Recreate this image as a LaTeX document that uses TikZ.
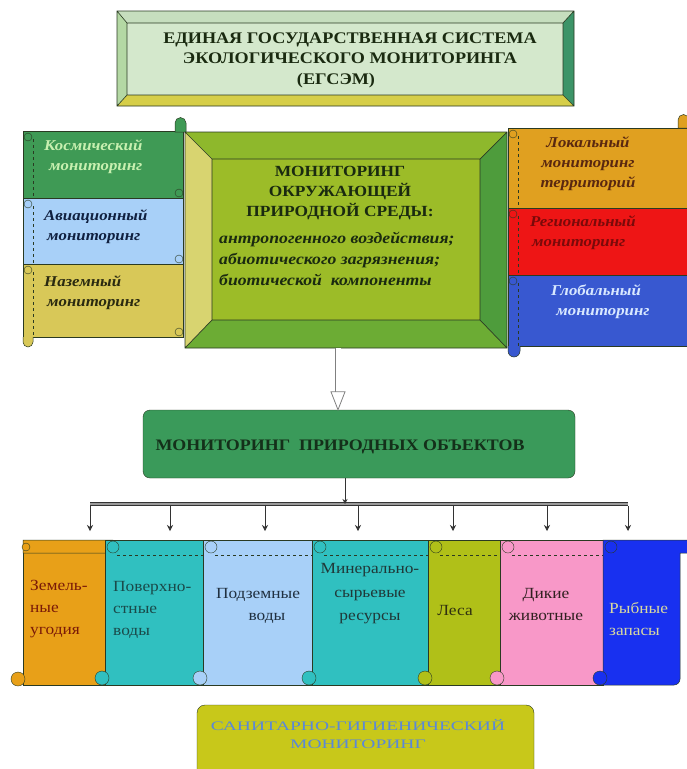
\documentclass[tikz,border=0pt]{standalone}
\usepackage{fontspec}
\setmainfont{Liberation Serif}[FakeStretch=1.12]
\newfontfamily\widefont{Liberation Serif}[FakeStretch=1.5]
\usetikzlibrary{calc,arrows.meta}
\definecolor{outl}{HTML}{2A3A22}
\definecolor{tface}{HTML}{D4E8CC}
\definecolor{ttop}{HTML}{C6DEBE}
\definecolor{tleft}{HTML}{B4D8A4}
\definecolor{tright}{HTML}{3C9468}
\definecolor{tbot}{HTML}{D6CE48}
\definecolor{cface}{HTML}{9CBC28}
\definecolor{ctop}{HTML}{8EB82C}
\definecolor{cleft}{HTML}{D8D470}
\definecolor{cright}{HTML}{4E9C3C}
\definecolor{cbot}{HTML}{6CAC34}
\definecolor{lgreen}{HTML}{3F9A55}
\definecolor{lblue}{HTML}{A8D0F8}
\definecolor{lyell}{HTML}{D8C858}
\definecolor{rorange}{HTML}{E0A020}
\definecolor{rred}{HTML}{EE1515}
\definecolor{rblue}{HTML}{3858D0}
\definecolor{objgreen}{HTML}{3A9A5A}
\definecolor{borange}{HTML}{E8A018}
\definecolor{bteal}{HTML}{30C0C0}
\definecolor{blblue}{HTML}{A8D0F8}
\definecolor{bygreen}{HTML}{B0C018}
\definecolor{bpink}{HTML}{F898C8}
\definecolor{bblue}{HTML}{1830F0}
\definecolor{sanfill}{HTML}{C8C81A}
\definecolor{santxt}{HTML}{5A88D8}
\definecolor{dtxt}{HTML}{1A2A10}
\definecolor{kosmtxt}{HTML}{C8F0B0}
\definecolor{aviatxt}{HTML}{102040}
\definecolor{nazemtxt}{HTML}{2A2A10}
\definecolor{loktxt}{HTML}{5A2810}
\definecolor{regtxt}{HTML}{7A0A0A}
\definecolor{globtxt}{HTML}{D8E8FF}
\definecolor{objtxtc}{HTML}{14301A}
\definecolor{zemtxt}{HTML}{7A1A08}
\definecolor{povtxt}{HTML}{1A4A4A}
\definecolor{podztxt}{HTML}{203040}
\definecolor{mintxt}{HTML}{203838}
\definecolor{lestxt}{HTML}{303010}
\definecolor{diktxt}{HTML}{302020}
\definecolor{rybtxt}{HTML}{D8D8A0}
\newcommand\hscroll[5]{%
  \draw[outl,fill=#5,line width=0.5pt] (#1,#2) rectangle (#3,#4);
  \draw[outl,dashed,line width=0.4pt] (#1+10,#2+8) -- (#1+10,#4);
  \draw[outl,fill=#5,line width=0.4pt] (#1+5,#2+6) circle (4);
  \draw[outl,fill=#5,line width=0.4pt] (#3-4,#4-5) circle (4);
}
\newcommand\vscroll[3]{%
  \draw[outl,fill=#3,line width=0.5pt] (#1,540) rectangle (#2,685);
  \draw[outl,dashed,line width=0.4pt] (#1+12,555) -- (#2,555);
  \draw[outl,fill=#3,line width=0.4pt] (#1+8,547) circle (6);
  \draw[outl,fill=#3,line width=0.4pt] (#1-3,678) circle (7);
}
\begin{document}
\begin{tikzpicture}[x=1pt,y=-1pt,
  edge/.style={draw=black!80,line width=0.7pt},
  capsbold/.style={font=\bfseries\fontsize{15.5}{20}\selectfont,text=dtxt,align=center,inner sep=0pt},
  scrolltxt/.style={font=\bfseries\itshape\fontsize{15}{20}\selectfont,inner sep=0pt},
  objtxt/.style={font=\fontsize{15.5}{22}\selectfont,inner sep=0pt}]
\useasboundingbox (0,0) rectangle (686,769);
\fill[white] (0,0) rectangle (686,769);

% ---------- title bevel box ----------
\fill[ttop] (117,11) -- (574,11) -- (563,23) -- (127,23) -- cycle;
\fill[tright] (574,11) -- (574,106) -- (563,95) -- (563,23) -- cycle;
\fill[tbot] (574,106) -- (117,106) -- (127,95) -- (563,95) -- cycle;
\fill[tleft] (117,106) -- (117,11) -- (127,23) -- (127,95) -- cycle;
\fill[tface] (127,23) rectangle (563,95);
\draw[outl,line width=0.6pt] (117,11) rectangle (574,106) (127,23) rectangle (563,95)
  (117,11) -- (127,23) (574,11) -- (563,23) (574,106) -- (563,95) (117,106) -- (127,95);
\node[capsbold,font=\bfseries\fontsize{16.2}{20.5}\selectfont] (title) at (350,60) {ЕДИНАЯ ГОСУДАРСТВЕННАЯ СИСТЕМА\\ЭКОЛОГИЧЕСКОГО МОНИТОРИНГА\\(ЕГСЭМ)\hspace*{28pt}};

% ---------- left scrolls ----------
\hscroll{23}{131}{183}{198}{lgreen}
\draw[outl,fill=lgreen,line width=0.5pt] (175,132) -- (175,123) arc (180:360:5.5) -- (186,132) -- cycle;
\hscroll{23}{198}{183}{264}{lblue}
\hscroll{23}{264}{183}{337}{lyell}
\draw[outl,fill=lyell,line width=0.5pt] (23,337) -- (23,342) arc (180:0:5) -- (33,337);
\node[scrolltxt,text=kosmtxt,anchor=west,align=left] (kosm) at (44,157) {Космический\\\hspace*{5pt}мониторинг};
\node[scrolltxt,text=aviatxt,anchor=west,align=left] (avia) at (44,227) {Авиационный\\\hspace*{3pt}мониторинг};
\node[scrolltxt,text=nazemtxt,anchor=west,align=left] (nazem) at (44,293) {Наземный\\\hspace*{3pt}мониторинг};

% ---------- right scrolls ----------
\hscroll{508}{128}{700}{208}{rorange}
\draw[outl,fill=rorange,line width=0.5pt] (678,128) -- (678,120) arc (180:360:5.5) -- (689,128) -- cycle;
\hscroll{508}{208}{700}{275}{rred}
\hscroll{508}{275}{700}{346}{rblue}
\draw[outl,fill=rblue,line width=0.5pt] (508,346) -- (508,351) arc (180:0:6) -- (520,346);
\node[scrolltxt,text=loktxt,align=center] (lok) at (588,164) {Локальный\\мониторинг\\территорий};
\node[scrolltxt,text=regtxt,anchor=west,align=left] (reg) at (530,233) {Региональный\\\hspace*{2pt}мониторинг};
\node[scrolltxt,text=globtxt,align=center] (glob) at (596,302) {Глобальный\\\hspace*{14pt}мониторинг};

% ---------- central bevel box ----------
\node[inner sep=0pt,minimum width=322pt,minimum height=216pt] (cen) at (346,240) {};
\fill[ctop] (185,132) -- (507,132) -- (480,159) -- (212,159) -- cycle;
\fill[cright] (507,132) -- (507,348) -- (480,320) -- (480,159) -- cycle;
\fill[cbot] (507,348) -- (185,348) -- (212,320) -- (480,320) -- cycle;
\fill[cleft] (185,348) -- (185,132) -- (212,159) -- (212,320) -- cycle;
\fill[cface] (212,159) rectangle (480,320);
\draw[outl,line width=0.7pt] (185,132) rectangle (507,348) (212,159) rectangle (480,320)
  (185,132) -- (212,159) (507,132) -- (480,159) (507,348) -- (480,320) (185,348) -- (212,320);
\node[capsbold] (cencaps) at (340,193) {МОНИТОРИНГ\\ОКРУЖАЮЩЕЙ\\ПРИРОДНОЙ СРЕДЫ:};
\node[font=\bfseries\itshape\fontsize{15.8}{21}\selectfont,text=dtxt,anchor=west,align=left,inner sep=0pt] (cenit) at (219,259)
  {антропогенного воздействия;\\абиотического загрязнения;\\биотической\ \ компоненты};

% ---------- hollow arrow ----------
\coordinate (arrtop) at ($(cen.south)+(-8,0)$);
\node[draw=outl,fill=objgreen,rounded corners=7pt,minimum width=432pt,minimum height=68pt,inner sep=0pt] (obj) at (359,444) {};
\coordinate (arrtip) at (arrtop |- obj.north);
\draw[draw=gray,double=white,double distance=5pt,line width=0.8pt] (arrtop) -- ($(arrtip)+(0,-18)$);
\draw[gray,fill=white,line width=0.8pt] ($(arrtip)+(-7,-18)$) -- ($(arrtip)+(7,-18)$) -- (arrtip) -- cycle;
\node[font=\bfseries\fontsize{16}{20}\selectfont,text=objtxtc,inner sep=0pt] (objtext) at (340,447) {МОНИТОРИНГ\ \ ПРИРОДНЫХ ОБЪЕКТОВ};

% ---------- bus ----------
\coordinate (busL) at (90,504);
\coordinate (busR) at (628,504);
\coordinate (busin) at ($(obj.south)+(-14,0)$);
\draw[black!80,double=black!40,double distance=1.8pt,line width=0.8pt] (busL) -- (busR);
\draw[edge,-{Stealth[length=5pt,width=5pt]}] (busin) -- (busin |- busL);
\foreach \xx [count=\i] in {90,170,265,358,453,547,628}{
  \coordinate (drop\i) at (\xx,506);
  \coordinate (tip\i) at (\xx,531);
  \draw[edge,-{Stealth[length=6pt,width=6pt]}] (drop\i) -- (tip\i);
}

% ---------- bottom scrolls ----------
\draw[outl,fill=borange,line width=0.5pt] (23,540) rectangle (105,685);
\draw[outl,fill=borange,line width=0.5pt] (23,540) -- (112,540) arc (270:450:6.5) -- (23,553) -- cycle;
\draw[outl,fill=borange,line width=0.4pt] (26,547) circle (4);
\draw[outl,fill=borange,line width=0.4pt] (18,679) circle (7);
\vscroll{105}{205}{bteal}
\vscroll{203}{312}{blblue}
\vscroll{312}{428}{bteal}
\vscroll{428}{500}{bygreen}
\vscroll{500}{603}{bpink}
\draw[outl,fill=bblue,line width=0.5pt] (603,540) -- (690,540) -- (690,553) -- (680,553) -- (680,679) arc (0:90:6) -- (603,685) -- cycle;
\draw[outl,fill=bblue,line width=0.4pt] (611,547) circle (6);
\draw[outl,fill=bblue,line width=0.4pt] (600,678) circle (7);

\node[objtxt,text=zemtxt,anchor=west,align=left] (zem) at (30,609) {Земель-\\ные\\угодия};
\node[objtxt,text=povtxt,anchor=west,align=left] (pov) at (113,610) {Поверхно-\\стные\\воды};
\node[objtxt,text=podztxt,align=center] (podz) at (258,606) {Подземные\\\hspace*{18pt}воды};
\node[objtxt,text=mintxt,align=center,font=\fontsize{15.5}{23.5}\selectfont] (min) at (370,594) {Минерально-\\сырьевые\\ресурсы};
\node[objtxt,text=lestxt] (les) at (455,610) {Леса};
\node[objtxt,text=diktxt,align=center] (dik) at (546,604) {Дикие\\животные};
\node[objtxt,text=rybtxt,anchor=west,align=left] (ryb) at (609,619) {Рыбные\\запасы};

% ---------- sanitary box ----------
\node[draw=outl,fill=sanfill,rounded corners=8pt,minimum width=337pt,minimum height=80pt,inner sep=0pt] (san) at (365.5,745) {};
\node[font=\widefont\fontsize{13}{18}\selectfont,text=santxt,align=center,inner sep=0pt] (santext) at (358,734) {САНИТАРНО-ГИГИЕНИЧЕСКИЙ\\МОНИТОРИНГ};
\end{tikzpicture}
\end{document}
